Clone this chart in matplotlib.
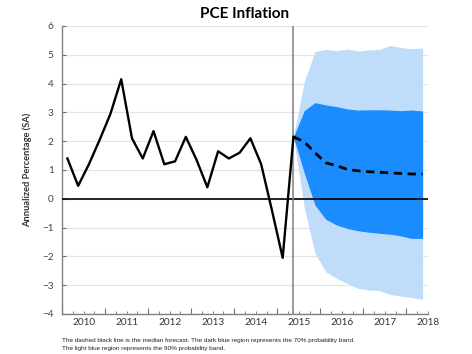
import matplotlib
matplotlib.use("Agg")
import matplotlib.pyplot as plt
import numpy as np

# Quarterly history (2009Q3 .. 2014Q4), plotted at mid-quarter
hist_start = 2009.625
hist_values = [1.4, 0.45, 1.2, 2.05, 2.95, 4.15, 2.1, 1.4, 2.35, 1.2, 1.3,
               2.15, 1.35, 0.4, 1.65, 1.4, 1.6, 2.1, 1.2, -0.4, -2.05, 2.15]

# Forecast (2014Q4 .. 2017Q4)
fc_start = 2014.875
fc_median = [2.15, 1.98, 1.6, 1.25, 1.15, 1.02, 0.97, 0.94, 0.92, 0.90, 0.88, 0.86, 0.86]
fc_70_hi = [2.15, 3.06, 3.34, 3.26, 3.2, 3.12, 3.08, 3.09, 3.09, 3.08, 3.06, 3.08, 3.05]
fc_70_lo = [2.15, 0.9, -0.22, -0.71, -0.91, -1.03, -1.11, -1.16, -1.2, -1.23, -1.29, -1.38, -1.37]
fc_90_hi = [2.15, 4.07, 5.11, 5.19, 5.14, 5.2, 5.13, 5.17, 5.19, 5.32, 5.25, 5.21, 5.24]
fc_90_lo = [2.15, -0.3, -1.89, -2.53, -2.76, -2.94, -3.11, -3.17, -3.19, -3.32, -3.38, -3.43, -3.49]

years = [2010, 2011, 2012, 2013, 2014, 2015, 2016, 2017, 2018]

footnote = ("The dashed black line is the median forecast. The dark blue region represents the 70% probability band.\n"
            "The light blue region represents the 90% probability band.")

hist_x = hist_start + 0.25 * np.arange(len(hist_values))
fc_x = fc_start + 0.25 * np.arange(len(fc_median))

plt.rcParams["font.family"] = ["Lato", "DejaVu Sans"]

fig = plt.figure(figsize=(4.72, 3.54), dpi=100)
ax = fig.add_axes([0.1314, 0.113, 0.7754, 0.8136])

# Grid lines
for y in range(-4, 7):
    ax.axhline(y, color="#e4e4e4", lw=0.9, zorder=0)

# Probability bands
ax.fill_between(fc_x, fc_90_lo, fc_90_hi, color="#bfddfb", lw=0, zorder=1)
ax.fill_between(fc_x, fc_70_lo, fc_70_hi, color="#1b8cfe", lw=0, zorder=2)

# Zero line and forecast start
ax.axhline(0, color="black", lw=1.2, zorder=3)
ax.axvline(fc_start, color="#808080", lw=1.1, zorder=3)

# History and median forecast
ax.plot(hist_x, hist_values, color="black", lw=1.7, zorder=4)
ax.plot(fc_x, fc_median, color="black", lw=2.0, ls=(0, (3, 2)), zorder=4)

ax.set_xlim(2009.5, 2018.0)
ax.set_ylim(-4, 6)

# x ticks: long ones at mid-year, short ones every quarter, labels at year starts
ax.set_xticks(np.arange(2009.5, 2018.0, 1.0))
ax.set_xticklabels([])
q_pos = [q for q in np.arange(2009.75, 2018.01, 0.25) if q % 1 != 0.5]
q_lab = [str(int(q)) if q % 1 == 0 else "" for q in q_pos]
ax.set_xticks(q_pos, labels=q_lab, minor=True)
ax.tick_params(axis="x", which="major", direction="in", length=4, color="#707070")
ax.tick_params(axis="x", which="minor", direction="in", length=2.2, color="#707070",
               labelsize=7.2, labelcolor="#333333", pad=3)

ax.set_yticks(range(-4, 7))
ax.tick_params(axis="y", direction="in", length=3, color="#707070",
               labelsize=7.2, labelcolor="#444444", pad=6)

for s in ["top", "right"]:
    ax.spines[s].set_visible(False)
for s in ["left", "bottom"]:
    ax.spines[s].set_color("#808080")
    ax.spines[s].set_linewidth(1.0)

ax.set_ylabel("Annualized Percentage (SA)", fontsize=6.7, fontweight="bold",
              color="#333333", labelpad=7)
ax.set_title("PCE Inflation", fontsize=11, fontweight="bold", pad=6)

fig.text(0.131, 0.012, footnote, fontsize=4.6, color="#222222",
         family=["Liberation Sans", "DejaVu Sans"], linespacing=1.7)

fig.savefig("out.png", dpi=100)
